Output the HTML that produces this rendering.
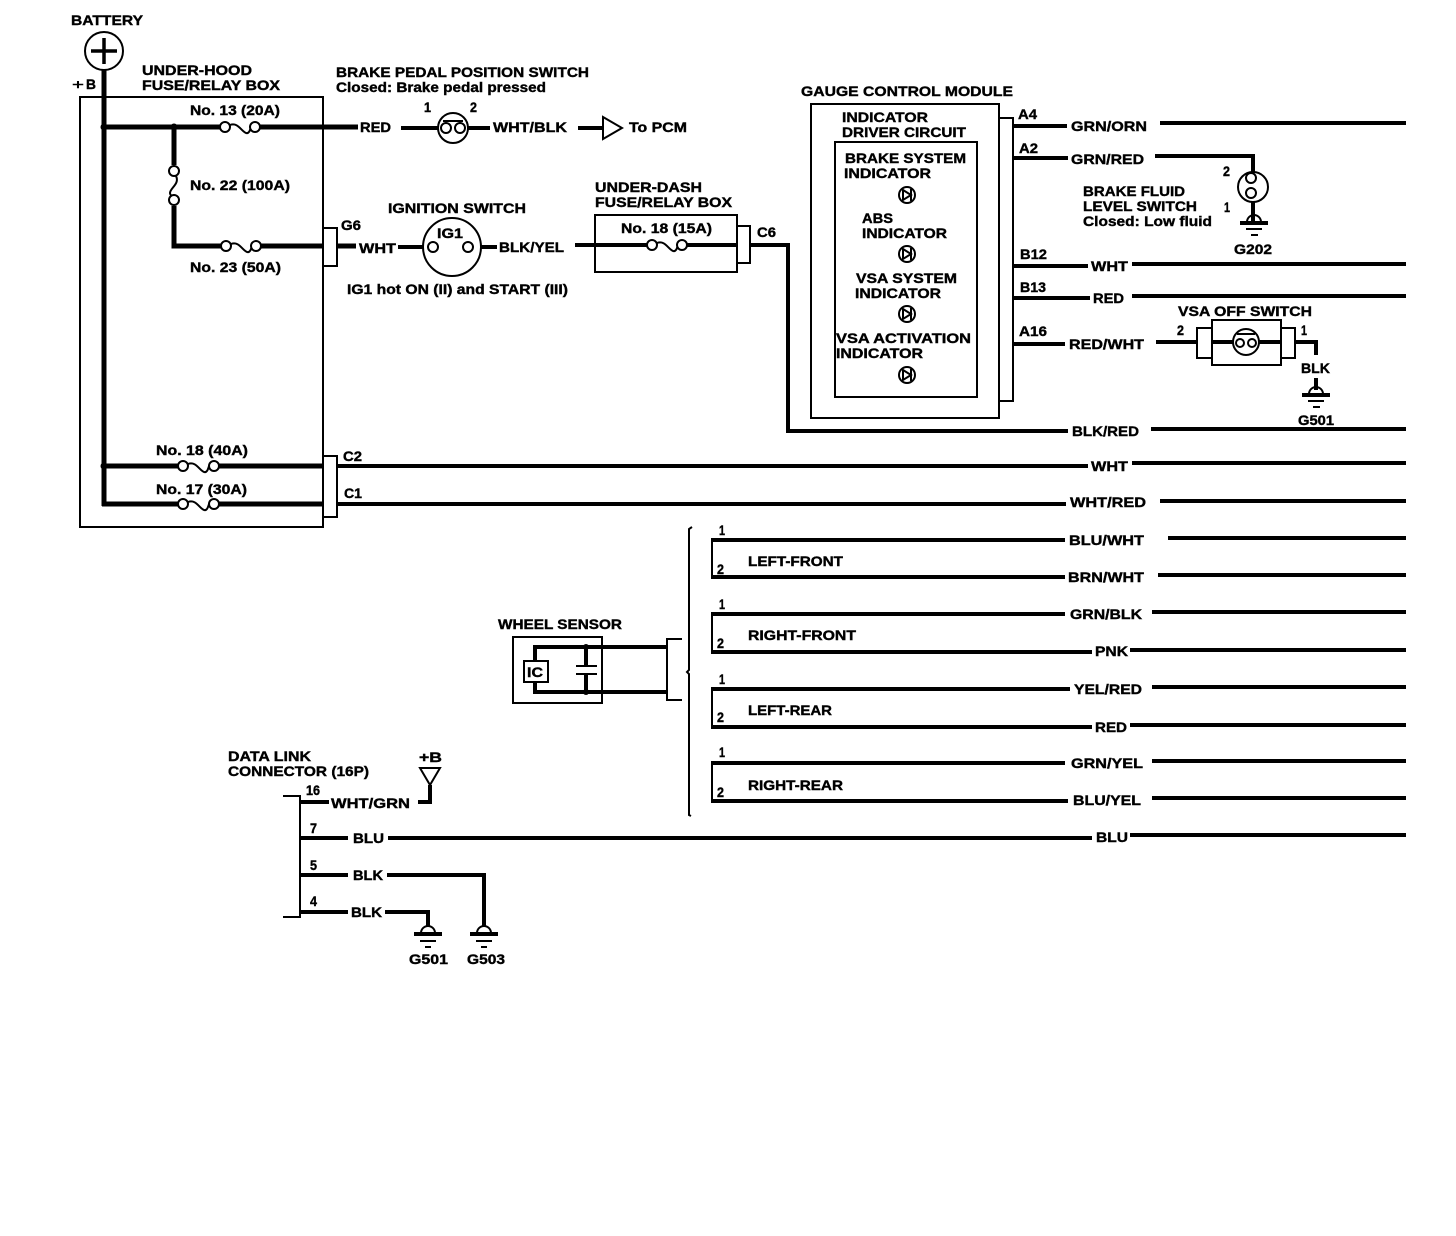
<!DOCTYPE html>
<html><head><meta charset="utf-8"><style>
html,body{margin:0;padding:0;background:#fff}
svg{display:block}
text{font-family:"Liberation Sans",sans-serif;font-weight:bold;font-size:14px;fill:#000;stroke:#000;stroke-width:.4px}
.w{fill:none;stroke:#000;stroke-width:4}
.h{fill:none;stroke:#000;stroke-width:5}
.m{fill:none;stroke:#000;stroke-width:3}
.t{fill:none;stroke:#000;stroke-width:2}
.c{fill:#fff;stroke:#000;stroke-width:2}
</style></head><body>
<svg width="1456" height="1236" viewBox="0 0 1456 1236" xmlns="http://www.w3.org/2000/svg">
<rect width="1456" height="1236" fill="#fff"/>
<!-- boxes -->
<rect class="t" x="80" y="97" width="243" height="430"/>
<rect class="t" x="595" y="215" width="142" height="57"/>
<rect class="t" x="811" y="104" width="188" height="314"/>
<rect class="t" x="835" y="142" width="142" height="255"/>
<rect class="t" x="999" y="118" width="14" height="283"/>
<rect class="t" x="737" y="226" width="13" height="37"/>
<!-- battery -->
<circle class="c" cx="104" cy="51" r="19"/>
<path d="M91 51H117M104 38V64" class="m" style="stroke-width:3.5"/>
<path class="h" d="M104 70V506"/>
<!-- under-hood wires -->
<path class="h" d="M104 127H220M260 127H358M174 127V165M174 206V246H221M261 246H323M337 246H356"/>
<path class="h" d="M104 466H178M219 466H323M102 504H178M219 504H323"/>
<path class="w" d="M337 466H1088M1132 463H1406M337 504H1066M1160 501H1406"/>
<rect x="323" y="228" width="14" height="38" fill="#fff" stroke="#000" stroke-width="2"/>
<rect x="323" y="456" width="14" height="61" fill="#fff" stroke="#000" stroke-width="2"/>
<circle cx="104" cy="127" r="3.5"/><circle cx="174" cy="127" r="3.5"/><circle cx="104" cy="466" r="3.5"/>
<!-- fuses -->
<g>
<path class="t" d="M230 125C238 122 241 131 246 133C249 134 250 130 251 127"/>
<path class="t" d="M231 244C239 241 242 250 247 252C250 253 251 249 252 246"/>
<path class="t" d="M188 464C196 461 199 470 204 472C207 473 208 469 209 466"/>
<path class="t" d="M188 502C196 499 199 508 204 510C207 511 208 507 209 504"/>
<path class="t" d="M657 243C665 240 668 249 673 251C676 252 677 248 678 245"/>
<path class="t" d="M176 176C180 184 170 188 170 193C170 195 172 196 174 196"/>
</g>
<circle class="c" cx="225" cy="127" r="5"/><circle class="c" cx="255" cy="127" r="5"/>
<circle class="c" cx="226" cy="246" r="5"/><circle class="c" cx="256" cy="246" r="5"/>
<circle class="c" cx="174" cy="171" r="5"/><circle class="c" cx="174" cy="200" r="5"/>
<circle class="c" cx="183" cy="466" r="5"/><circle class="c" cx="214" cy="466" r="5"/>
<circle class="c" cx="183" cy="504" r="5"/><circle class="c" cx="214" cy="504" r="5"/>
<circle class="c" cx="652" cy="245" r="5"/><circle class="c" cx="682" cy="245" r="5"/>
<!-- brake pedal switch -->
<path class="w" d="M401 128H441M462 128H490M578 128H603"/>
<circle class="c" cx="453" cy="128" r="15"/>
<circle class="c" cx="446" cy="128" r="5"/><circle class="c" cx="460" cy="128" r="5"/>
<path class="t" d="M443 121H463"/>
<path class="c" d="M603 117L622 128L603 139Z"/>
<!-- ignition -->
<path class="w" d="M398 247H428M473 247H497M575 245H647M687 245H737M750 245H788V431H1068M1151 429H1406"/>
<circle class="c" cx="452" cy="247" r="29"/>
<circle class="c" cx="433" cy="247" r="5"/><circle class="c" cx="468" cy="247" r="5"/>
<path class="w" d="M1013 126H1067M1160 123H1406M1013 158H1068M1155 156H1253V172M1253 200V222M1013 266H1088M1132 264H1406M1013 298H1090M1132 296H1406M1013 344H1065M1156 342H1197M1295 342H1316V355M1316 378V390" />
<circle class="c" cx="1253" cy="187" r="15"/>
<circle class="c" cx="1251" cy="178" r="5"/><circle class="c" cx="1251" cy="193" r="5"/>
<!-- VSA off switch -->
<rect class="t" x="1212" y="320" width="69" height="45"/>
<rect class="t" x="1197" y="328" width="15" height="30"/>
<rect class="t" x="1281" y="328" width="14" height="30"/>
<path class="w" d="M1212 342H1281"/>
<circle class="c" cx="1246" cy="342" r="13"/>
<circle class="c" cx="1240" cy="343" r="4"/><circle class="c" cx="1252" cy="343" r="4"/>
<path class="t" d="M1237 334H1255"/>
<!-- indicators -->
<g>
<circle class="c" cx="907" cy="195" r="8"/><path class="t" d="M903 190L911 195L903 200ZM911 189V201"/>
<circle class="c" cx="907" cy="254" r="8"/><path class="t" d="M903 249L911 254L903 259ZM911 248V260"/>
<circle class="c" cx="907" cy="314" r="8"/><path class="t" d="M903 309L911 314L903 319ZM911 308V320"/>
<circle class="c" cx="907" cy="375" r="8"/><path class="t" d="M903 370L911 375L903 380ZM911 369V381"/>
</g>
<!-- grounds -->
<g>
<path class="t" d="M1247 222A7 7 0 0 1 1261 222"/><path class="w" d="M1240 223H1268"/><path class="t" d="M1246 229H1262M1251 235H1258"/>
<path class="t" d="M1309 394A7 7 0 0 1 1323 394"/><path class="w" d="M1302 395H1330"/><path class="t" d="M1308 401H1324M1313 407H1320"/>
<path class="t" d="M421 933A7 7 0 0 1 435 933"/><path class="w" d="M414 934H442"/><path class="t" d="M420 941H436M425 947H431"/>
<path class="t" d="M477 933A7 7 0 0 1 491 933"/><path class="w" d="M470 934H498"/><path class="t" d="M476 941H492M481 947H487"/>
</g>
<!-- wheel sensor -->
<rect class="t" x="513" y="637" width="89" height="66"/>
<path class="w" d="M535 661V647H667M535 682V692H667M586 647V665M586 675V692" />
<path class="t" d="M576 666H597M576 674H597"/>
<circle cx="586" cy="647" r="3"/><circle cx="586" cy="692" r="3"/>
<rect x="524" y="661" width="24" height="21" fill="#fff" stroke="#000" stroke-width="2"/>
<path class="t" d="M682 639H667V700H682"/>
<path class="t" d="M692 527L689 529V670L687 672L689 674V815L691 816"/>
<path class="t" d="M712 540V578M712 614V653M712 688V727M712 763V802"/>
<path class="w" d="M711 540H1065M1168 538H1406M711 577H1065M1158 575H1406M711 614H1065M1152 612H1406M711 652H1092M1130 650H1406M711 689H1070M1152 687H1406M711 727H1092M1130 725H1406M711 763H1065M1152 761H1406M711 801H1068M1152 798H1406"/>
<!-- data link -->
<path class="t" d="M283 796H300V917H283"/>
<path class="w" d="M300 802H329M300 838H348M388 838H1092M1130 835H1406M300 875H348M387 875H484V926M300 912H348M385 912H428V926M418 802H430V785"/>
<path class="t" d="M420 768H440L430 785Z"/>
<!-- labels -->
<text x="71" y="25" textLength="72" lengthAdjust="spacingAndGlyphs">BATTERY</text>
<text x="72" y="89" textLength="12" lengthAdjust="spacingAndGlyphs" style="font-weight:normal">+</text>
<text x="86" y="89" textLength="10" lengthAdjust="spacingAndGlyphs">B</text>
<text x="142" y="75" textLength="110" lengthAdjust="spacingAndGlyphs">UNDER-HOOD</text>
<text x="142" y="90" textLength="138" lengthAdjust="spacingAndGlyphs">FUSE/RELAY BOX</text>
<text x="336" y="77" textLength="253" lengthAdjust="spacingAndGlyphs">BRAKE PEDAL POSITION SWITCH</text>
<text x="336" y="92" textLength="210" lengthAdjust="spacingAndGlyphs">Closed: Brake pedal pressed</text>
<text x="190" y="115" textLength="90" lengthAdjust="spacingAndGlyphs">No. 13 (20A)</text>
<text x="360" y="132" textLength="31" lengthAdjust="spacingAndGlyphs">RED</text>
<text x="424" y="112" textLength="7" lengthAdjust="spacingAndGlyphs">1</text>
<text x="470" y="112" textLength="7" lengthAdjust="spacingAndGlyphs">2</text>
<text x="493" y="132" textLength="74" lengthAdjust="spacingAndGlyphs">WHT/BLK</text>
<text x="629" y="132" textLength="58" lengthAdjust="spacingAndGlyphs">To PCM</text>
<text x="190" y="190" textLength="100" lengthAdjust="spacingAndGlyphs">No. 22 (100A)</text>
<text x="190" y="272" textLength="91" lengthAdjust="spacingAndGlyphs">No. 23 (50A)</text>
<text x="341" y="230" textLength="20" lengthAdjust="spacingAndGlyphs">G6</text>
<text x="359" y="253" textLength="37" lengthAdjust="spacingAndGlyphs">WHT</text>
<text x="388" y="213" textLength="138" lengthAdjust="spacingAndGlyphs">IGNITION SWITCH</text>
<text x="437" y="238" textLength="26" lengthAdjust="spacingAndGlyphs">IG1</text>
<text x="499" y="252" textLength="65" lengthAdjust="spacingAndGlyphs">BLK/YEL</text>
<text x="347" y="294" textLength="221" lengthAdjust="spacingAndGlyphs">IG1 hot ON (II) and START (III)</text>
<text x="595" y="192" textLength="107" lengthAdjust="spacingAndGlyphs">UNDER-DASH</text>
<text x="595" y="207" textLength="137" lengthAdjust="spacingAndGlyphs">FUSE/RELAY BOX</text>
<text x="621" y="233" textLength="91" lengthAdjust="spacingAndGlyphs">No. 18 (15A)</text>
<text x="757" y="237" textLength="19" lengthAdjust="spacingAndGlyphs">C6</text>
<text x="801" y="96" textLength="212" lengthAdjust="spacingAndGlyphs">GAUGE CONTROL MODULE</text>
<text x="842" y="122" textLength="86" lengthAdjust="spacingAndGlyphs">INDICATOR</text>
<text x="842" y="137" textLength="124" lengthAdjust="spacingAndGlyphs">DRIVER CIRCUIT</text>
<text x="845" y="163" textLength="121" lengthAdjust="spacingAndGlyphs">BRAKE SYSTEM</text>
<text x="844" y="178" textLength="87" lengthAdjust="spacingAndGlyphs">INDICATOR</text>
<text x="862" y="223" textLength="31" lengthAdjust="spacingAndGlyphs">ABS</text>
<text x="862" y="238" textLength="85" lengthAdjust="spacingAndGlyphs">INDICATOR</text>
<text x="856" y="283" textLength="101" lengthAdjust="spacingAndGlyphs">VSA SYSTEM</text>
<text x="855" y="298" textLength="86" lengthAdjust="spacingAndGlyphs">INDICATOR</text>
<text x="836" y="343" textLength="135" lengthAdjust="spacingAndGlyphs">VSA ACTIVATION</text>
<text x="836" y="358" textLength="87" lengthAdjust="spacingAndGlyphs">INDICATOR</text>
<text x="1018" y="119" textLength="19" lengthAdjust="spacingAndGlyphs">A4</text>
<text x="1019" y="153" textLength="19" lengthAdjust="spacingAndGlyphs">A2</text>
<text x="1020" y="259" textLength="27" lengthAdjust="spacingAndGlyphs">B12</text>
<text x="1020" y="292" textLength="26" lengthAdjust="spacingAndGlyphs">B13</text>
<text x="1019" y="336" textLength="28" lengthAdjust="spacingAndGlyphs">A16</text>
<text x="1071" y="131" textLength="76" lengthAdjust="spacingAndGlyphs">GRN/ORN</text>
<text x="1071" y="164" textLength="73" lengthAdjust="spacingAndGlyphs">GRN/RED</text>
<text x="1223" y="176" textLength="7" lengthAdjust="spacingAndGlyphs">2</text>
<text x="1224" y="212" textLength="6" lengthAdjust="spacingAndGlyphs">1</text>
<text x="1234" y="254" textLength="38" lengthAdjust="spacingAndGlyphs">G202</text>
<text x="1083" y="196" textLength="102" lengthAdjust="spacingAndGlyphs">BRAKE FLUID</text>
<text x="1083" y="211" textLength="114" lengthAdjust="spacingAndGlyphs">LEVEL SWITCH</text>
<text x="1083" y="226" textLength="129" lengthAdjust="spacingAndGlyphs">Closed: Low fluid</text>
<text x="1091" y="271" textLength="37" lengthAdjust="spacingAndGlyphs">WHT</text>
<text x="1093" y="303" textLength="31" lengthAdjust="spacingAndGlyphs">RED</text>
<text x="1069" y="349" textLength="75" lengthAdjust="spacingAndGlyphs">RED/WHT</text>
<text x="1178" y="316" textLength="134" lengthAdjust="spacingAndGlyphs">VSA OFF SWITCH</text>
<text x="1177" y="335" textLength="7" lengthAdjust="spacingAndGlyphs">2</text>
<text x="1301" y="335" textLength="6" lengthAdjust="spacingAndGlyphs">1</text>
<text x="1301" y="373" textLength="29" lengthAdjust="spacingAndGlyphs">BLK</text>
<text x="1298" y="425" textLength="36" lengthAdjust="spacingAndGlyphs">G501</text>
<text x="1072" y="436" textLength="67" lengthAdjust="spacingAndGlyphs">BLK/RED</text>
<text x="1091" y="471" textLength="37" lengthAdjust="spacingAndGlyphs">WHT</text>
<text x="1070" y="507" textLength="76" lengthAdjust="spacingAndGlyphs">WHT/RED</text>
<text x="343" y="461" textLength="19" lengthAdjust="spacingAndGlyphs">C2</text>
<text x="344" y="498" textLength="18" lengthAdjust="spacingAndGlyphs">C1</text>
<text x="156" y="455" textLength="92" lengthAdjust="spacingAndGlyphs">No. 18 (40A)</text>
<text x="156" y="494" textLength="91" lengthAdjust="spacingAndGlyphs">No. 17 (30A)</text>
<text x="498" y="629" textLength="124" lengthAdjust="spacingAndGlyphs">WHEEL SENSOR</text>
<text x="527" y="677" textLength="16" lengthAdjust="spacingAndGlyphs">IC</text>
<text x="719" y="535" textLength="6" lengthAdjust="spacingAndGlyphs">1</text>
<text x="717" y="574" textLength="7" lengthAdjust="spacingAndGlyphs">2</text>
<text x="748" y="566" textLength="95" lengthAdjust="spacingAndGlyphs">LEFT-FRONT</text>
<text x="719" y="609" textLength="6" lengthAdjust="spacingAndGlyphs">1</text>
<text x="717" y="648" textLength="7" lengthAdjust="spacingAndGlyphs">2</text>
<text x="748" y="640" textLength="108" lengthAdjust="spacingAndGlyphs">RIGHT-FRONT</text>
<text x="719" y="684" textLength="6" lengthAdjust="spacingAndGlyphs">1</text>
<text x="717" y="722" textLength="7" lengthAdjust="spacingAndGlyphs">2</text>
<text x="748" y="715" textLength="84" lengthAdjust="spacingAndGlyphs">LEFT-REAR</text>
<text x="719" y="757" textLength="6" lengthAdjust="spacingAndGlyphs">1</text>
<text x="717" y="797" textLength="7" lengthAdjust="spacingAndGlyphs">2</text>
<text x="748" y="790" textLength="95" lengthAdjust="spacingAndGlyphs">RIGHT-REAR</text>
<text x="1069" y="545" textLength="75" lengthAdjust="spacingAndGlyphs">BLU/WHT</text>
<text x="1068" y="582" textLength="76" lengthAdjust="spacingAndGlyphs">BRN/WHT</text>
<text x="1070" y="619" textLength="72" lengthAdjust="spacingAndGlyphs">GRN/BLK</text>
<text x="1095" y="656" textLength="33" lengthAdjust="spacingAndGlyphs">PNK</text>
<text x="1074" y="694" textLength="68" lengthAdjust="spacingAndGlyphs">YEL/RED</text>
<text x="1095" y="732" textLength="32" lengthAdjust="spacingAndGlyphs">RED</text>
<text x="1071" y="768" textLength="72" lengthAdjust="spacingAndGlyphs">GRN/YEL</text>
<text x="1073" y="805" textLength="68" lengthAdjust="spacingAndGlyphs">BLU/YEL</text>
<text x="1096" y="842" textLength="32" lengthAdjust="spacingAndGlyphs">BLU</text>
<text x="228" y="761" textLength="83" lengthAdjust="spacingAndGlyphs">DATA LINK</text>
<text x="228" y="776" textLength="141" lengthAdjust="spacingAndGlyphs">CONNECTOR (16P)</text>
<text x="419" y="762" textLength="23" lengthAdjust="spacingAndGlyphs">+B</text>
<text x="331" y="808" textLength="79" lengthAdjust="spacingAndGlyphs">WHT/GRN</text>
<text x="306" y="795" textLength="14" lengthAdjust="spacingAndGlyphs">16</text>
<text x="310" y="833" textLength="7" lengthAdjust="spacingAndGlyphs">7</text>
<text x="353" y="843" textLength="31" lengthAdjust="spacingAndGlyphs">BLU</text>
<text x="310" y="870" textLength="7" lengthAdjust="spacingAndGlyphs">5</text>
<text x="353" y="880" textLength="30" lengthAdjust="spacingAndGlyphs">BLK</text>
<text x="310" y="906" textLength="7" lengthAdjust="spacingAndGlyphs">4</text>
<text x="351" y="917" textLength="31" lengthAdjust="spacingAndGlyphs">BLK</text>
<text x="409" y="964" textLength="39" lengthAdjust="spacingAndGlyphs">G501</text>
<text x="467" y="964" textLength="38" lengthAdjust="spacingAndGlyphs">G503</text>
</svg>
</body></html>
